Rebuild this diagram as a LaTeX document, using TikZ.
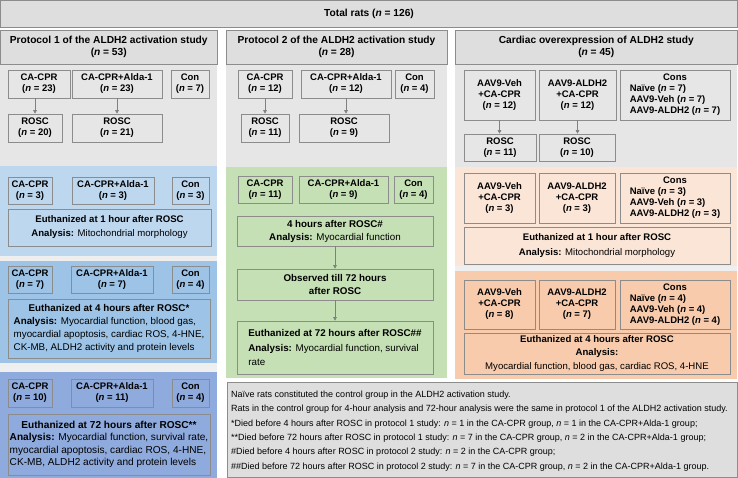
\documentclass[tikz,border=0pt]{standalone}
\usepackage{fontspec}
\setmainfont{Liberation Sans}
\usetikzlibrary{arrows.meta}
\definecolor{pangray}{HTML}{E6E6E6}
\definecolor{hdrgray}{HTML}{DEDEDE}
\definecolor{gapc}{HTML}{EFEFEF}
\definecolor{bordc}{HTML}{8C8C8C}
\definecolor{arrgray}{HTML}{808080}
\definecolor{lblue}{HTML}{BDD7EE}
\definecolor{mblue}{HTML}{9DC3E6}
\definecolor{dblue}{HTML}{8FAADC}
\definecolor{lgreen}{HTML}{C5E0B4}
\definecolor{lpeach}{HTML}{FBE5D6}
\definecolor{dpeach}{HTML}{F8CBAD}
\newcommand\mkbox[7]{\node[#2, minimum width={#5-#3}, minimum height={#6-#4}] (#1) at ({(#3+#5)/2},{(#4+#6)/2}) {#7};}
\newcommand\nn{\textit{n}}
\tikzset{
  bx/.style={draw=bordc, line width=0.6pt, inner sep=1pt, align=center, font=\fontsize{9.5}{11}\selectfont\bfseries},
  ebx/.style={bx, font=\fontsize{9.8}{13}\selectfont\bfseries},
  hdr/.style={draw=bordc, fill=hdrgray, line width=0.6pt, inner sep=1pt, align=center, font=\fontsize{10.2}{11.5}\selectfont\bfseries},
  arr/.style={draw=arrgray, line width=0.6pt, -{Triangle[length=3.5pt,width=3.5pt]}},
}
\begin{document}
\begin{tikzpicture}[x=1pt,y=-1pt]
\useasboundingbox (0,0) rectangle (738,478);
\fill[white] (0,0) rectangle (738,478);
% panels
\fill[pangray] (0,64) rectangle (217,166);
\fill[lblue] (0,166) rectangle (217,256);
\fill[gapc] (0,256) rectangle (217,261);
\fill[mblue] (0,261) rectangle (217,363);
\fill[gapc] (0,363) rectangle (217,372);
\fill[dblue] (0,372) rectangle (217,478);
\fill[pangray] (226,64) rectangle (447,167);
\fill[lgreen] (226,167) rectangle (447,378);
\fill[pangray] (455,64) rectangle (737,167);
\fill[lpeach] (455,167) rectangle (737,266);
\fill[gapc] (455,266) rectangle (737,271);
\fill[dpeach] (455,271) rectangle (737,379);
% top and headers
\mkbox{top}{hdr}{0.5}{0.5}{737.5}{27}{Total rats (\nn{} = 126)}
\mkbox{h1}{hdr}{0.5}{30}{217}{64}{Protocol 1 of the ALDH2 activation study\\(\nn{} = 53)}
\mkbox{h2}{hdr}{226}{30}{447}{64}{Protocol 2 of the ALDH2 activation study\\(\nn{} = 28)}
\mkbox{h3}{hdr}{455}{30}{737.5}{64}{Cardiac overexpression of ALDH2 study\\(\nn{} = 45)}
% column 1
\mkbox{c1a}{bx}{8}{70}{70}{98}{CA-CPR\\(\nn{} = 23)}
\mkbox{c1b}{bx}{72}{70}{162}{98}{CA-CPR+Alda-1\\(\nn{} = 23)}
\mkbox{c1c}{bx}{171}{70}{209}{98}{Con\\(\nn{} = 7)}
\mkbox{r1a}{bx}{8}{114}{62}{142}{ROSC\\(\nn{} = 20)}
\mkbox{r1b}{bx}{72}{114}{162}{142}{ROSC\\(\nn{} = 21)}
\draw[arr] (r1a.north |- c1a.south) -- (r1a.north);
\draw[arr] (c1b.south) -- (r1b.north);
\mkbox{b1a}{bx}{8}{177}{52}{204}{CA-CPR\\(\nn{} = 3)}
\mkbox{b1b}{bx}{72}{177}{154}{204}{CA-CPR+Alda-1\\(\nn{} = 3)}
\mkbox{b1c}{bx}{172}{177}{209}{204}{Con\\(\nn{} = 3)}
\mkbox{b1e}{ebx, font=\fontsize{9.6}{14}\selectfont\bfseries}{8}{209}{211}{246}{Euthanized at 1 hour after ROSC\\Analysis: \textmd{Mitochondrial morphology}}
\mkbox{b2a}{bx}{8}{266}{52}{293}{CA-CPR\\(\nn{} = 7)}
\mkbox{b2b}{bx}{71}{266}{153}{293}{CA-CPR+Alda-1\\(\nn{} = 7)}
\mkbox{b2c}{bx}{172}{266}{209}{293}{Con\\(\nn{} = 4)}
\mkbox{b2e}{ebx}{8}{299}{210}{358}{\begin{tabular}{@{}l@{}}\multicolumn{1}{@{}c@{}}{Euthanized at 4 hours after ROSC*}\\Analysis: \textmd{Myocardial function, blood gas,}\\\textmd{myocardial apoptosis, cardiac ROS, 4-HNE,}\\\textmd{CK-MB, ALDH2 activity and protein levels}\end{tabular}}
\mkbox{b3a}{bx}{8}{379}{52}{407}{CA-CPR\\(\nn{} = 10)}
\mkbox{b3b}{bx}{71}{379}{153}{407}{CA-CPR+Alda-1\\(\nn{} = 11)}
\mkbox{b3c}{bx}{172}{379}{209}{407}{Con\\(\nn{} = 4)}
\mkbox{b3e}{ebx, font=\fontsize{10.1}{12.5}\selectfont\bfseries}{8}{414}{210}{475}{\begin{tabular}{@{}l@{}}\multicolumn{1}{@{}c@{}}{Euthanized at 72 hours after ROSC**}\\Analysis: \textmd{Myocardial function, survival rate,}\\\textmd{myocardial apoptosis, cardiac ROS, 4-HNE,}\\\textmd{CK-MB, ALDH2 activity and protein levels}\end{tabular}}
% column 2
\mkbox{c2a}{bx}{238}{70}{292}{98}{CA-CPR\\(\nn{} = 12)}
\mkbox{c2b}{bx}{301}{70}{391}{98}{CA-CPR+Alda-1\\(\nn{} = 12)}
\mkbox{c2c}{bx}{395}{70}{434}{98}{Con\\(\nn{} = 4)}
\mkbox{r2a}{bx}{241}{114}{289}{142}{ROSC\\(\nn{} = 11)}
\mkbox{r2b}{bx}{299}{114}{389}{142}{ROSC\\(\nn{} = 9)}
\draw[arr] (c2a.south) -- (c2a.south |- r2a.north);
\draw[arr] (c2b.south) -- (c2b.south |- r2b.north);
\mkbox{g1a}{bx}{238}{176}{292}{203}{CA-CPR\\(\nn{} = 11)}
\mkbox{g1b}{bx}{299}{176}{388}{203}{CA-CPR+Alda-1\\(\nn{} = 9)}
\mkbox{g1c}{bx}{394}{176}{433}{203}{Con\\(\nn{} = 4)}
\mkbox{g2}{ebx}{237}{216}{433}{246}{4 hours after ROSC\#\\Analysis: \textmd{Myocardial function}}
\mkbox{g3}{ebx, font=\fontsize{9.8}{12.5}\selectfont\bfseries}{237}{269}{433}{300}{Observed till 72 hours\\after ROSC}
\mkbox{g4}{ebx, align=left, font=\fontsize{9.8}{14.5}\selectfont\bfseries}{237}{321}{433}{374}{Euthanized at 72 hours after ROSC\#\#\\Analysis: \textmd{Myocardial function, survival}\\\textmd{rate}}
\draw[arr] (g2.south) -- (g3.north);
\draw[arr] (g3.south) -- (g4.north);
% column 3
\mkbox{c3a}{bx}{464}{70}{535}{120}{AAV9-Veh\\+CA-CPR\\(\nn{} = 12)}
\mkbox{c3b}{bx}{539}{70}{616}{120}{AAV9-ALDH2\\+CA-CPR\\(\nn{} = 12)}
\mkbox{c3c}{bx}{620}{70}{730}{120}{\begin{tabular}{@{}l@{}}\multicolumn{1}{@{}c@{}}{Cons}\\Naïve (\nn{} = 7)\\AAV9-Veh (\nn{} = 7)\\AAV9-ALDH2 (\nn{} = 7)\end{tabular}}
\mkbox{r3a}{bx}{464}{134}{536}{161}{ROSC\\(\nn{} = 11)}
\mkbox{r3b}{bx}{539}{134}{615}{161}{ROSC\\(\nn{} = 10)}
\draw[arr] (c3a.south) -- (c3a.south |- r3a.north);
\draw[arr] (c3b.south) -- (c3b.south |- r3b.north);
\mkbox{p1a}{bx}{464}{173}{535}{223}{AAV9-Veh\\+CA-CPR\\(\nn{} = 3)}
\mkbox{p1b}{bx}{539}{173}{615}{223}{AAV9-ALDH2\\+CA-CPR\\(\nn{} = 3)}
\mkbox{p1c}{bx}{620}{173}{730}{223}{\begin{tabular}{@{}l@{}}\multicolumn{1}{@{}c@{}}{Cons}\\Naïve (\nn{} = 3)\\AAV9-Veh (\nn{} = 3)\\AAV9-ALDH2 (\nn{} = 3)\end{tabular}}
\mkbox{p1e}{ebx, font=\fontsize{9.6}{15}\selectfont\bfseries}{464}{227}{730}{264}{Euthanized at 1 hour after ROSC\\Analysis: \textmd{Mitochondrial morphology}}
\mkbox{p2a}{bx}{464}{280}{535}{329}{AAV9-Veh\\+CA-CPR\\(\nn{} = 8)}
\mkbox{p2b}{bx}{539}{280}{615}{329}{AAV9-ALDH2\\+CA-CPR\\(\nn{} = 7)}
\mkbox{p2c}{bx}{620}{280}{730}{329}{\begin{tabular}{@{}l@{}}\multicolumn{1}{@{}c@{}}{Cons}\\Naïve (\nn{} = 4)\\AAV9-Veh (\nn{} = 4)\\AAV9-ALDH2 (\nn{} = 4)\end{tabular}}
\mkbox{p2e}{ebx, font=\fontsize{9.6}{13.6}\selectfont\bfseries}{464}{333}{730}{374}{Euthanized at 4 hours after ROSC\\Analysis:\\\textmd{Myocardial function, blood gas, cardiac ROS, 4-HNE}}
% notes
\mkbox{notes}{draw=bordc, fill=hdrgray, line width=0.6pt}{227}{382}{737.5}{477}{}
\node[anchor=west, align=left, inner sep=0pt, font=\fontsize{9.0}{14.4}\selectfont] (notestext) at (231,431) {Naïve rats constituted the control group in the ALDH2 activation study.\\Rats in the control group for 4-hour analysis and 72-hour analysis were the same in protocol 1 of the ALDH2 activation study.\\*Died before 4 hours after ROSC in protocol 1 study: \nn{} = 1 in the CA-CPR group, \nn{} = 1 in the CA-CPR+Alda-1 group;\\**Died before 72 hours after ROSC in protocol 1 study: \nn{} = 7 in the CA-CPR group, \nn{} = 2 in the CA-CPR+Alda-1 group;\\\#Died before 4 hours after ROSC in protocol 2 study: \nn{} = 2 in the CA-CPR group;\\\#\#Died before 72 hours after ROSC in protocol 2 study: \nn{} = 7 in the CA-CPR group, \nn{} = 2 in the CA-CPR+Alda-1 group.};
\end{tikzpicture}
\end{document}
